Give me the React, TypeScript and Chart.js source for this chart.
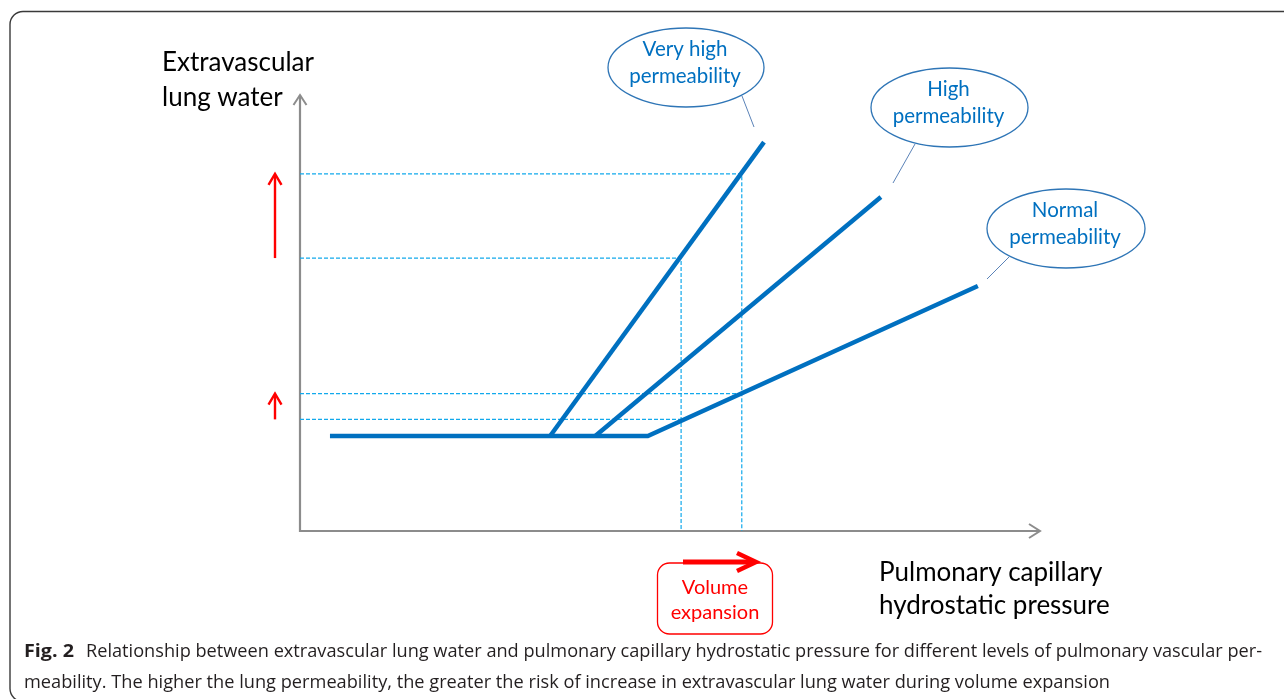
import { useEffect, useRef } from "react";
import { Chart, registerables } from "chart.js";

Chart.register(...registerables);

// ---- data (abstract units: x = hydrostatic pressure, y = extravascular lung water) ----
const normalPermeability = [
  { x: 4.05, y: 21.8 },
  { x: 47.0, y: 21.8 },
  { x: 91.6, y: 56.2 },
];
const highPermeability = [
  { x: 39.9, y: 21.8 },
  { x: 78.5, y: 76.6 },
];
const veryHighPermeability = [
  { x: 33.8, y: 21.8 },
  { x: 62.7, y: 89.2 },
];
// pressure before / after volume expansion
const pressureLevels = [51.5, 59.7];
// lung water at those pressures
const veryHighWater = [62.6, 81.9];
const normalWater = [25.6, 31.5];

const calloutTexts = [
  ["Very high", "permeability"],
  ["High", "permeability"],
  ["Normal", "permeability"],
];
const yAxisTitle = ["Extravascular", "lung water"];
const xAxisTitle = ["Pulmonary capillary", "hydrostatic pressure"];
const volumeText = ["Volume", "expansion"];
const captionBold = "Fig. 2";
const captionLine1 =
  "Relationship between extravascular lung water and pulmonary capillary hydrostatic pressure for different levels of pulmonary vascular per-";
const captionLine2 =
  "meability. The higher the lung permeability, the greater the risk of increase in extravascular lung water during volume expansion";

// ---- layout / styles ----
const BLUE = "#0070C0";
const GUIDE = "#12A9EC";
const AXIS = "#8C8C8C";
const RED = "#FF0000";
const FONT = "Lato, 'Open Sans', sans-serif";

const callouts = [
  { cx: 686, cy: 67.5, rx: 78, ry: 39.5, leader: [742, 96, 754, 127] },
  { cx: 949.5, cy: 107.5, rx: 78.5, ry: 39.5, leader: [915, 144, 893, 183] },
  { cx: 1066, cy: 228.5, rx: 79, ry: 39.5, leader: [1009, 257, 987, 279] },
];

function chevron(ctx: CanvasRenderingContext2D, tx: number, ty: number, dx: number, dy: number, len: number, half: number) {
  const bx = tx - dx * len;
  const by = ty - dy * len;
  const px = -dy;
  const py = dx;
  ctx.beginPath();
  ctx.moveTo(bx + px * half, by + py * half);
  ctx.lineTo(tx, ty);
  ctx.lineTo(bx - px * half, by - py * half);
  ctx.stroke();
}

function stretchText(ctx: CanvasRenderingContext2D, text: string, x: number, y: number, width: number) {
  const w = ctx.measureText(text).width;
  ctx.save();
  ctx.translate(x, y);
  ctx.scale(width / w, 1);
  ctx.textAlign = "left";
  ctx.fillText(text, 0, 0);
  ctx.restore();
}

const diagramPlugin = {
  id: "diagram",
  beforeDraw(chart: any) {
    const ctx: CanvasRenderingContext2D = chart.ctx;
    ctx.save();
    ctx.fillStyle = "#fff";
    ctx.fillRect(0, 0, chart.width, chart.height);
    ctx.strokeStyle = "#3a3a3a";
    ctx.lineWidth = 1.4;
    ctx.beginPath();
    (ctx as any).roundRect(10, 11.5, 1300, 690, 13);
    ctx.stroke();
    ctx.restore();
  },
  beforeDatasetsDraw(chart: any) {
    const ctx: CanvasRenderingContext2D = chart.ctx;
    const { left, right, top, bottom } = chart.chartArea;
    ctx.save();
    ctx.strokeStyle = AXIS;
    ctx.lineWidth = 2.2;
    ctx.lineCap = "butt";
    ctx.beginPath();
    ctx.moveTo(left, top);
    ctx.lineTo(left, bottom);
    ctx.lineTo(right, bottom);
    ctx.stroke();
    ctx.lineWidth = 2;
    chevron(ctx, left, top, 0, -1, 10, 6.5);
    chevron(ctx, right, bottom, 1, 0, 11, 7);
    ctx.restore();
  },
  afterDraw(chart: any) {
    const ctx: CanvasRenderingContext2D = chart.ctx;
    const ys = chart.scales.y;
    const { left } = chart.chartArea;
    ctx.save();

    // red arrows showing rise in lung water
    ctx.strokeStyle = RED;
    ctx.lineWidth = 2.4;
    const ax = left - 25;
    [veryHighWater, normalWater].forEach((pair) => {
      const y0 = ys.getPixelForValue(pair[0]);
      const y1 = ys.getPixelForValue(pair[1]);
      ctx.beginPath();
      ctx.moveTo(ax, y0);
      ctx.lineTo(ax, y1 + 1);
      ctx.stroke();
      chevron(ctx, ax, y1, 0, -1, 11, 6.5);
    });

    // callouts
    callouts.forEach((c, i) => {
      ctx.strokeStyle = "#2E75B6";
      ctx.lineWidth = 1.3;
      ctx.beginPath();
      ctx.ellipse(c.cx, c.cy, c.rx, c.ry, 0, 0, Math.PI * 2);
      ctx.stroke();
      ctx.strokeStyle = "#5B83B8";
      ctx.lineWidth = 1;
      ctx.beginPath();
      ctx.moveTo(c.leader[0], c.leader[1]);
      ctx.lineTo(c.leader[2], c.leader[3]);
      ctx.stroke();
      ctx.fillStyle = BLUE;
      ctx.font = `20.5px ${FONT}`;
      ctx.textAlign = "center";
      ctx.textBaseline = "alphabetic";
      ctx.fillText(calloutTexts[i][0], c.cx - 1, c.cy - 11.5);
      ctx.fillText(calloutTexts[i][1], c.cx - 1, c.cy + 15);
    });

    // axis titles
    ctx.fillStyle = "#000";
    ctx.font = `26px ${FONT}`;
    ctx.textAlign = "left";
    ctx.fillText(yAxisTitle[0], 162, 71);
    ctx.fillText(yAxisTitle[1], 162, 106);
    ctx.fillText(xAxisTitle[0], 879, 581);
    ctx.fillText(xAxisTitle[1], 879, 614);

    // volume expansion box
    ctx.strokeStyle = RED;
    ctx.lineWidth = 1.3;
    ctx.beginPath();
    (ctx as any).roundRect(657.5, 563, 115, 71, 12);
    ctx.stroke();
    ctx.fillStyle = RED;
    ctx.font = `20px ${FONT}`;
    ctx.textAlign = "center";
    ctx.fillText(volumeText[0], 715, 594);
    ctx.fillText(volumeText[1], 715, 619);
    ctx.lineWidth = 5;
    ctx.lineCap = "butt";
    ctx.beginPath();
    ctx.moveTo(683, 562);
    ctx.lineTo(754, 562);
    ctx.stroke();
    ctx.lineWidth = 4.5;
    ctx.lineJoin = "miter";
    chevron(ctx, 756, 562, 1, 0, 19, 9);

    // caption
    ctx.fillStyle = "#231F20";
    ctx.textBaseline = "alphabetic";
    ctx.font = `bold 18px 'Open Sans', sans-serif`;
    stretchText(ctx, captionBold, 24, 657, 50);
    ctx.font = `17.5px 'Open Sans', sans-serif`;
    stretchText(ctx, captionLine1, 86, 657, 1176);
    stretchText(ctx, captionLine2, 24, 688, 1086);

    ctx.restore();
  },
};

function guide(level: number, water: number, vertical: boolean) {
  const pts = [
    { x: 0, y: water },
    { x: level, y: water },
  ];
  if (vertical) pts.push({ x: level, y: 0 });
  return pts;
}

export default function App() {
  const ref = useRef<HTMLCanvasElement>(null);
  useEffect(() => {
    const canvas = ref.current!;
    const mainLine = {
      showLine: true,
      pointRadius: 0,
      borderWidth: 4.5,
      borderColor: BLUE,
      backgroundColor: BLUE,
      borderJoinStyle: "miter" as const,
      borderCapStyle: "butt" as const,
      tension: 0,
      fill: false,
    };
    const guideLine = {
      showLine: true,
      pointRadius: 0,
      borderWidth: 1.2,
      borderColor: GUIDE,
      borderDash: [4, 2],
      tension: 0,
      fill: false,
    };
    const chart = new Chart(canvas, {
      type: "scatter",
      data: {
        datasets: [
          { label: "Very high permeability", data: veryHighPermeability, ...mainLine },
          { label: "High permeability", data: highPermeability, ...mainLine },
          { label: "Normal permeability", data: normalPermeability, ...mainLine },
          { label: "g1", data: guide(pressureLevels[1], veryHighWater[1], true), ...guideLine },
          { label: "g2", data: guide(pressureLevels[0], veryHighWater[0], true), ...guideLine },
          { label: "g3", data: guide(pressureLevels[1], normalWater[1], false), ...guideLine },
          { label: "g4", data: guide(pressureLevels[0], normalWater[0], false), ...guideLine },
        ],
      } as any,
      options: {
        animation: false,
        responsive: false,
        devicePixelRatio: 1,
        events: [],
        layout: { padding: { left: 300, right: 244, top: 95, bottom: 168 } },
        scales: {
          x: { type: "linear", min: 0, max: 100, display: false },
          y: { type: "linear", min: 0, max: 100, display: false },
        },
        plugins: { legend: { display: false }, tooltip: { enabled: false } },
      },
      plugins: [diagramPlugin],
    });
    return () => chart.destroy();
  }, []);
  return (
    <div style={{ position: "absolute", left: 0, top: 0, width: 1284, height: 699, background: "#fff", overflow: "hidden" }}>
      <canvas ref={ref} width={1284} height={699} style={{ width: 1284, height: 699, display: "block" }} />
    </div>
  );
}
